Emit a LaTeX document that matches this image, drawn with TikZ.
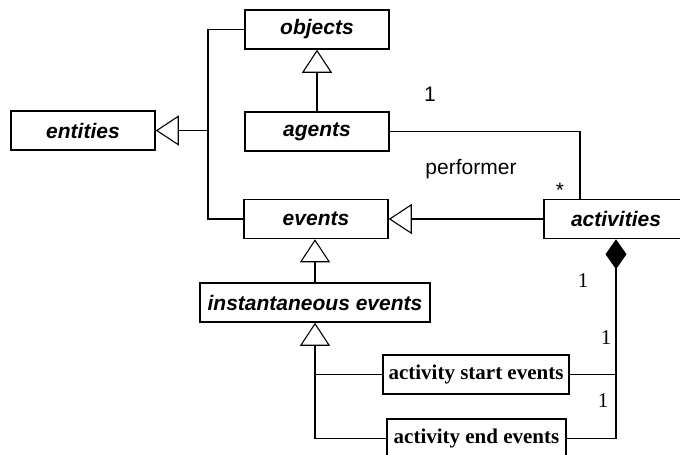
\documentclass[tikz,border=0pt]{standalone}
\usepackage{fontspec}
\setmainfont{Liberation Serif}
\setsansfont{Liberation Sans}
\usepackage{tikz}
\usetikzlibrary{arrows.meta,positioning}
\tikzset{
  % abstract classes: sans bold italic
  absclass/.style={
    draw=black,
    line width=1.5pt,
    fill=white,
    inner sep=0pt,
    minimum width=144pt,
    minimum height=39pt,
    font=\sffamily\bfseries\itshape\fontsize{21}{25}\selectfont
  },
  % concrete classes: serif bold
  conclass/.style={
    draw=black,
    line width=1.5pt,
    fill=white,
    inner sep=0pt,
    minimum height=39pt,
    font=\rmfamily\bfseries\fontsize{21}{25}\selectfont
  },
  link/.style={
    line width=1.1pt,
    draw=black
  },
  gen/.style={
    link,
    -{Triangle[open,length=23pt,width=30pt]}
  },
  comp/.style={
    link,
    {Diamond[length=30pt,width=21pt]}-
  },
  mult/.style={
    font=\sffamily\fontsize{21}{25}\selectfont,
    inner sep=0pt
  },
  smult/.style={
    font=\rmfamily\fontsize{21}{25}\selectfont,
    inner sep=0pt
  }
}
\begin{document}
\begin{tikzpicture}[x=1pt,y=-1pt]
\clip (0,0) rectangle (680,455);

\node[absclass] (objects) at (317,29.5) {objects};
\node[absclass] (entities) at (83,130.5) {entities};
\node[absclass] (agents) at (317,131.5) {agents};
\node[absclass] (events) at (316,219) {events};
\node[absclass] (activities) at (616,219) {activities};
\node[absclass, minimum width=230pt] (instev) at (315,302.5) {instantaneous events};
\node[conclass, minimum width=186pt] (actstart) at (476,374.5) {activity start events};
\node[conclass, minimum width=179pt] (actend) at (476.5,438.5) {activity end events};

\coordinate (gentree) at (208,130.5);
\coordinate (perfbend) at (580,131.5);

% generalisations
\draw[link] (objects.west) -| (gentree) |- (events.west);
\draw[gen] (gentree) -- (entities.east);
\draw[gen] (agents.north) -- (objects.south);
\draw[gen] (activities.west) -- (events.east);
\draw[gen] (instev.north) -- (instev.north |- events.south);
\draw[link] (actstart.west) -- (actstart.west -| instev.south);
\draw[gen] (actend.west) -| (instev.south);

% association
\draw[link] (agents.east) -| (perfbend |- activities.north);
\node[mult] (m1) at (430,94) {1};
\node[mult] (role) at (471,169) {performer};
\node[mult] (mstar) at (560,190) {*};

% composition
\draw[comp] (activities.south) -- (activities.south |- actend.east) -- (actend.east);
\draw[link] (actstart.east) -- (actstart.east -| activities.south);
\node[smult] (c1) at (583,281) {1};
\node[smult] (c2) at (606,338) {1};
\node[smult] (c3) at (603,401) {1};

\end{tikzpicture}
\end{document}
